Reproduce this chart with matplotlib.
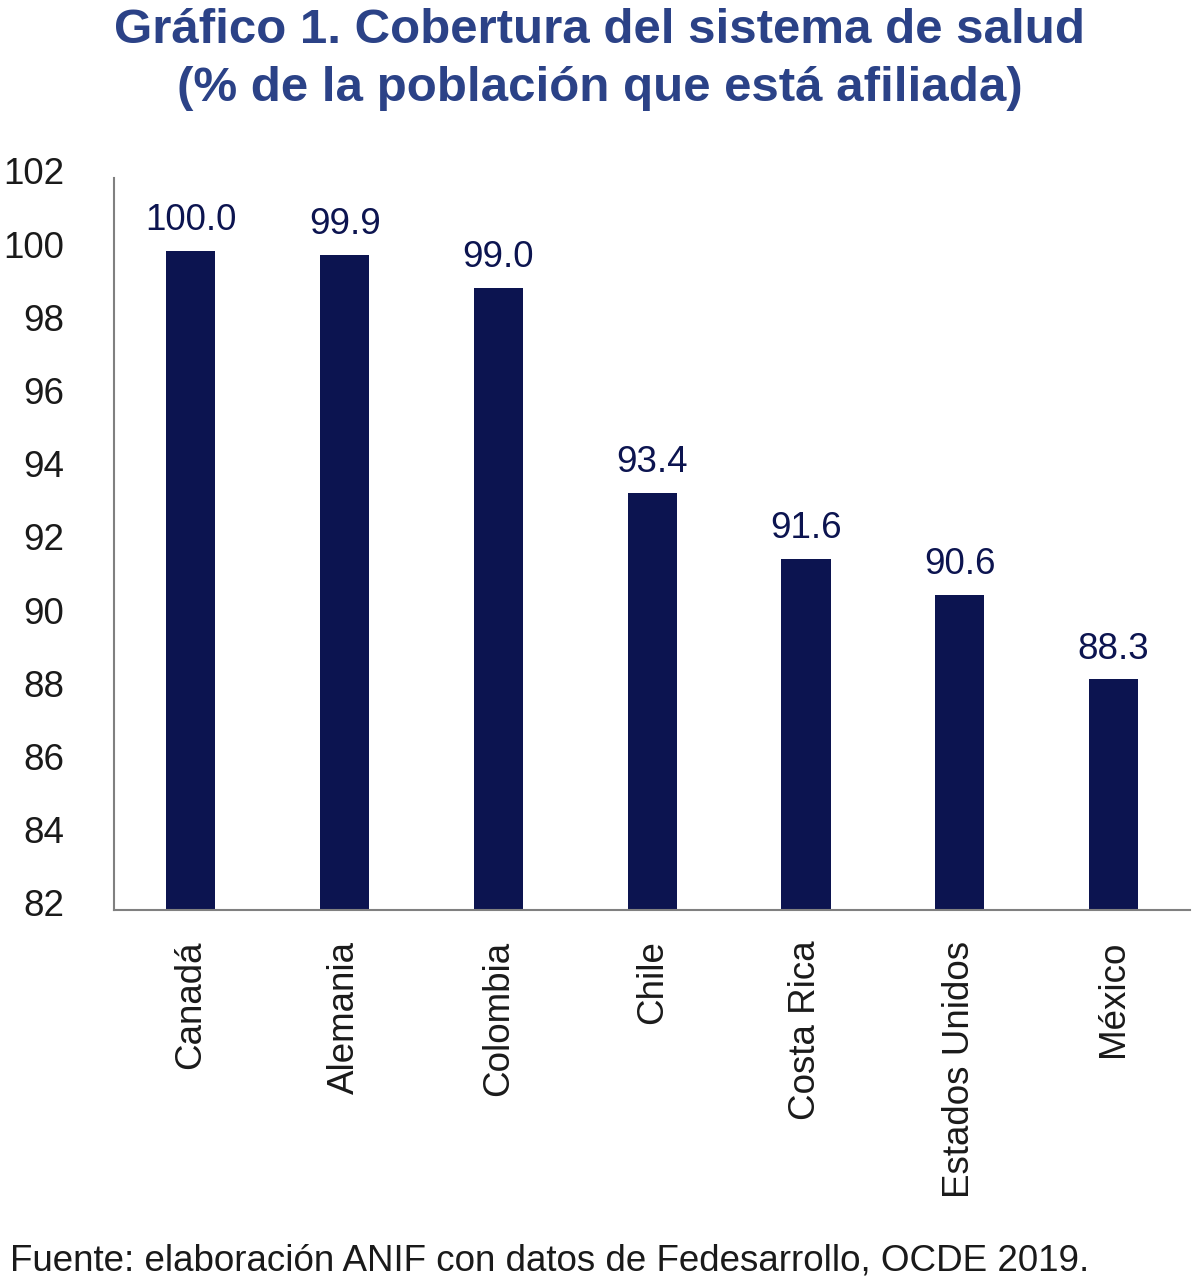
import numpy as np
import matplotlib
matplotlib.use("Agg")
import matplotlib.pyplot as plt
import matplotlib.transforms as mtransforms

plt.rcParams['font.family'] = ['Liberation Sans Narrow', 'Liberation Sans', 'DejaVu Sans']

# data
paises = ['Canadá', 'Alemania', 'Colombia', 'Chile', 'Costa Rica', 'Estados Unidos', 'México']
cobertura = [100.0, 99.9, 99.0, 93.4, 91.6, 90.6, 88.3]
yticks = [82, 84, 86, 88, 90, 92, 94, 96, 98, 100, 102]

bar_color = '#0c1450'
title_color = '#2b4287'
text_color = '#1a1a1a'

fig = plt.figure(figsize=(12, 12.82), dpi=100)
ax = fig.add_axes([0.095, 0.2902, 0.897, 0.571])

x = np.arange(len(paises))
bars = ax.bar(x, cobertura, width=0.32, color=bar_color)
for xi, v in zip(x, cobertura):
    ax.text(xi, v + 0.35, f'{v:.1f}', ha='center', va='bottom', fontsize=26.5, color=bar_color)

ax.set_ylim(82, 102)
ax.set_xlim(-0.5, len(paises) - 0.5)
ax.set_yticks(yticks)
ax.set_yticklabels([str(t) for t in yticks], fontsize=26.5, color=text_color)
ax.set_xticks(x)
ax.set_xticklabels(paises, rotation=90, fontsize=26.5, color=text_color, va='top')
ax.tick_params(axis='x', length=0, pad=22)
ax.tick_params(axis='y', length=0, pad=36)

# y labels sit a little above their gridline in the original
shift = mtransforms.ScaledTranslation(0, 7 / 100, fig.dpi_scale_trans)
for lab in ax.get_yticklabels():
    lab.set_transform(lab.get_transform() + shift)

for s in ['top', 'right']:
    ax.spines[s].set_visible(False)
for s in ['left', 'bottom']:
    ax.spines[s].set_color('#808080')
    ax.spines[s].set_linewidth(1.5)

fig.text(0.5, 0.994, 'Gráfico 1. Cobertura del sistema de salud\n(% de la población que está afiliada)',
         ha='center', va='top', fontsize=35.5, fontweight='bold', color=title_color, linespacing=1.38)
fig.text(0.008, 0.003, 'Fuente: elaboración ANIF con datos de Fedesarrollo, OCDE 2019.',
         ha='left', va='bottom', fontsize=26.5, color=text_color)

fig.savefig('out.png', dpi=100)
